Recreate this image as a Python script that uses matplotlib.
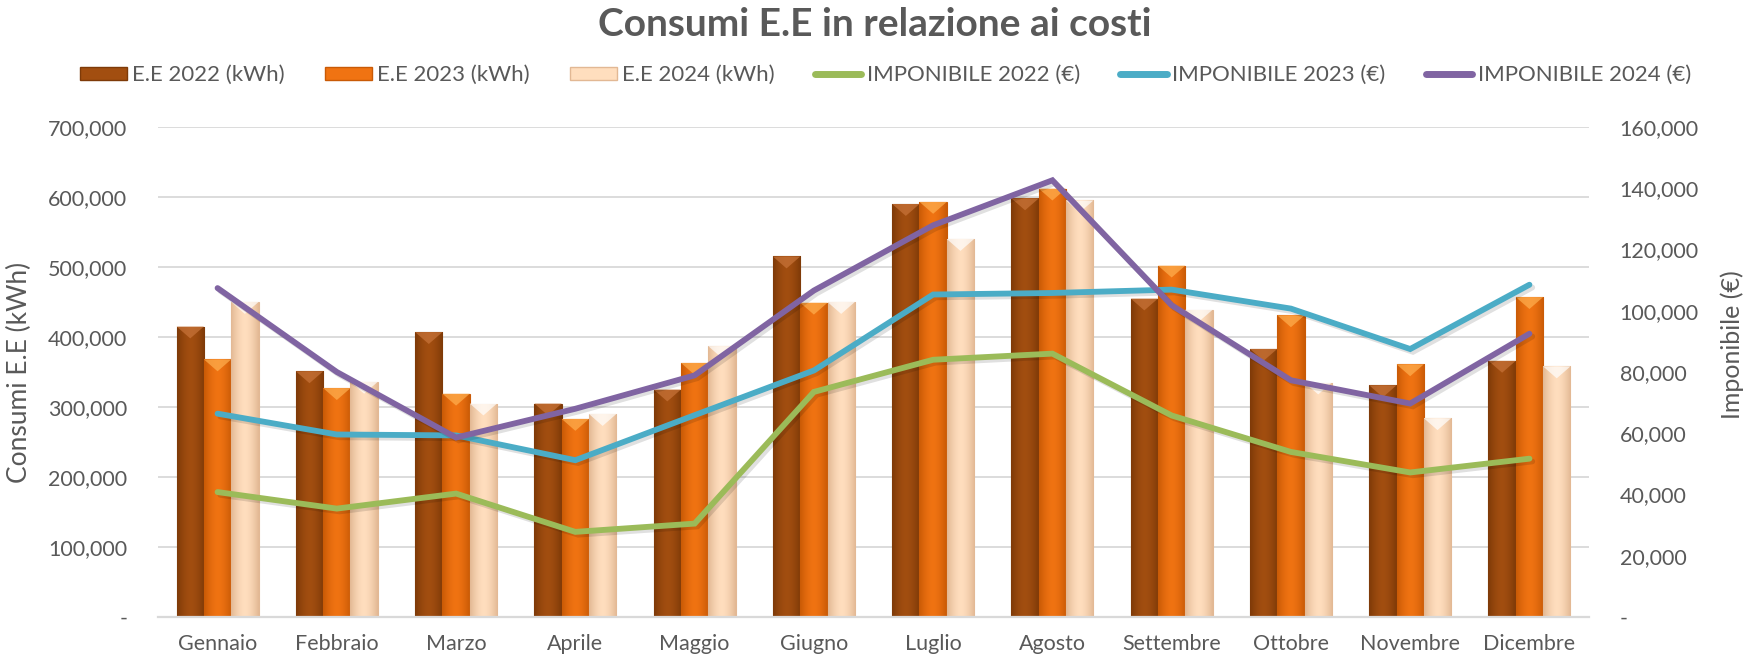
"""
consumi_ee.py — Consumi di energia elettrica confrontati con l'imponibile.

Barre: consumi mensili (kWh) 2022-2024 sull'asse sinistro.
Linee: imponibile mensile (€) 2022-2024 sull'asse destro.
"""

import numpy as np
import matplotlib
matplotlib.use("Agg")
import matplotlib.pyplot as plt
import matplotlib.patheffects as pe
from matplotlib.colors import LinearSegmentedColormap
from matplotlib.patches import Polygon, Patch
from matplotlib.lines import Line2D
from matplotlib.ticker import FuncFormatter, MultipleLocator


# ─────────────────────────────────────────────
# DATI
# ─────────────────────────────────────────────

MESI = ["Gennaio", "Febbraio", "Marzo", "Aprile", "Maggio", "Giugno",
        "Luglio", "Agosto", "Settembre", "Ottobre", "Novembre", "Dicembre"]

EE_2022 = [415000, 351000, 407000, 305000, 325000, 515000,
           590000, 598000, 455000, 383000, 331000, 366000]
EE_2023 = [368000, 327000, 319000, 283000, 363000, 449000,
           593000, 612000, 502000, 431000, 361000, 457000]
EE_2024 = [450000, 336000, 305000, 290000, 387000, 450000,
           540000, 595000, 439000, 335000, 284000, 358000]

IMP_2022 = [40800, 35400, 40300, 27800, 30500, 73500,
            84000, 86000, 65800, 53900, 47200, 51700]
IMP_2023 = [66400, 59600, 59300, 51200, 65900, 80500,
            105300, 105800, 106900, 100700, 87500, 108500]
IMP_2024 = [107400, 80000, 58600, 68000, 78900, 106600,
            127900, 142600, 101800, 77300, 69700, 92500]


# ─────────────────────────────────────────────
# STILE
# ─────────────────────────────────────────────

GRIGIO_TESTO = "#595959"
GRIGIO_GRIGLIA = "#D9D9D9"
FONT = ["Lato", "DejaVu Sans"]

# (bordo, centro, triangolo in cima)
COLORI_BARRE = [
    ("#7E3A08", "#A24E10", "#C8743A"),   # 2022
    ("#C95A06", "#F07312", "#FFB050"),   # 2023
    ("#E2B894", "#FFDEBE", "#FFFFFF"),   # 2024
]
COLORI_LINEE = ["#9BBB59", "#4BACC6", "#8064A2"]

LARGHEZZA = 0.229

plt.rcParams["font.family"] = FONT


def formato_migliaia(v, _pos):
    if v == 0:
        return "-"
    return f"{v:,.0f}"


def sfuma_barre(ax, barre, bordo, centro, punta):
    """Riempie ogni barra con un gradiente orizzontale e un triangolo in cima."""
    profilo = np.abs(np.linspace(-1, 1, 64)) ** 1.6
    cmap = LinearSegmentedColormap.from_list("barra", [centro, bordo])
    for p in barre:
        x0, w, h = p.get_x(), p.get_width(), p.get_height()
        img = ax.imshow(profilo[None, :], extent=[x0, x0 + w, 0, h],
                        aspect="auto", cmap=cmap, zorder=2,
                        interpolation="bicubic")
        img.set_clip_path(p)
        p.set_facecolor("none")
        # piccola smussatura a punta in cima alla barra
        prof = 17000
        tri = Polygon([[x0, h], [x0 + w, h], [x0 + w / 2, h - prof]],
                      closed=True, facecolor=punta, alpha=0.7,
                      edgecolor="none", zorder=3)
        ax.add_patch(tri)


# ─────────────────────────────────────────────
# GRAFICO
# ─────────────────────────────────────────────

fig = plt.figure(figsize=(17.47, 6.59), dpi=100)
ax = fig.add_axes([0.0904, 0.0637, 0.8192, 0.7436])
ax2 = ax.twinx()

x = np.arange(len(MESI))

serie_barre = [EE_2022, EE_2023, EE_2024]
for i, (valori, (bordo, centro, punta)) in enumerate(zip(serie_barre, COLORI_BARRE)):
    barre = ax.bar(x + (i - 1) * LARGHEZZA, valori, width=LARGHEZZA,
                   edgecolor=bordo, linewidth=0.8, zorder=2)
    sfuma_barre(ax, barre, bordo, centro, punta)

ombra = [pe.SimpleLineShadow(offset=(2, -2), alpha=0.12, rho=0.5), pe.Normal()]
serie_linee = [IMP_2022, IMP_2023, IMP_2024]
for valori, colore in zip(serie_linee, COLORI_LINEE):
    ax2.plot(x, valori, color=colore, linewidth=4.2,
             solid_capstyle="round", solid_joinstyle="miter",
             path_effects=ombra, zorder=4)

# ── assi ──
ax.set_xlim(-0.5, len(MESI) - 0.5)
ax.set_ylim(0, 700000)
ax2.set_ylim(0, 160000)
ax.yaxis.set_major_locator(MultipleLocator(100000))
ax2.yaxis.set_major_locator(MultipleLocator(20000))
ax.yaxis.set_major_formatter(FuncFormatter(formato_migliaia))
ax2.yaxis.set_major_formatter(FuncFormatter(formato_migliaia))

ax.set_xticks(x)
ax.set_xticklabels(MESI)

for a in (ax, ax2):
    for s in a.spines.values():
        s.set_visible(False)
    a.tick_params(length=0, colors=GRIGIO_TESTO, labelsize=15.5)

ax.spines["bottom"].set_visible(True)
ax.spines["bottom"].set_color(GRIGIO_GRIGLIA)
ax.spines["bottom"].set_linewidth(1.6)
ax.tick_params(axis="x", pad=12)
ax.tick_params(axis="y", pad=22)
ax2.tick_params(axis="y", pad=22)

ax.grid(axis="y", color=GRIGIO_GRIGLIA, linewidth=1.3, zorder=0)
ax.set_axisbelow(True)

ax.set_ylabel("Consumi E.E (kWh)", fontsize=19, color=GRIGIO_TESTO, va="center")
ax.yaxis.set_label_coords(-0.0964, 0.5)
ax2.set_ylabel("Imponibile (€)", fontsize=18, color=GRIGIO_TESTO,
               va="center", rotation=90)
ax2.yaxis.set_label_coords(1.0999, 0.555)

# ── titolo e legenda ──
fig.text(0.501, 0.963, "Consumi E.E in relazione ai costi", ha="center",
         va="center", fontsize=28, fontweight="bold", color=GRIGIO_TESTO)

etichette = ["E.E 2022 (kWh)", "E.E 2023 (kWh)", "E.E 2024 (kWh)",
             "IMPONIBILE 2022 (€)", "IMPONIBILE 2023 (€)", "IMPONIBILE 2024 (€)"]
maniglie = [Patch(facecolor=c, edgecolor=b) for b, c, _ in COLORI_BARRE]
maniglie += [Line2D([], [], color=c, linewidth=5, solid_capstyle="round")
             for c in COLORI_LINEE]
leg = fig.legend(maniglie, etichette, ncol=6, loc="center",
                 bbox_to_anchor=(0.507, 0.886), frameon=False,
                 fontsize=16, handlelength=2.1, handleheight=0.55,
                 handletextpad=0.25, columnspacing=1.8)
for t in leg.get_texts():
    t.set_color(GRIGIO_TESTO)

fig.savefig("out.png", dpi=100)
